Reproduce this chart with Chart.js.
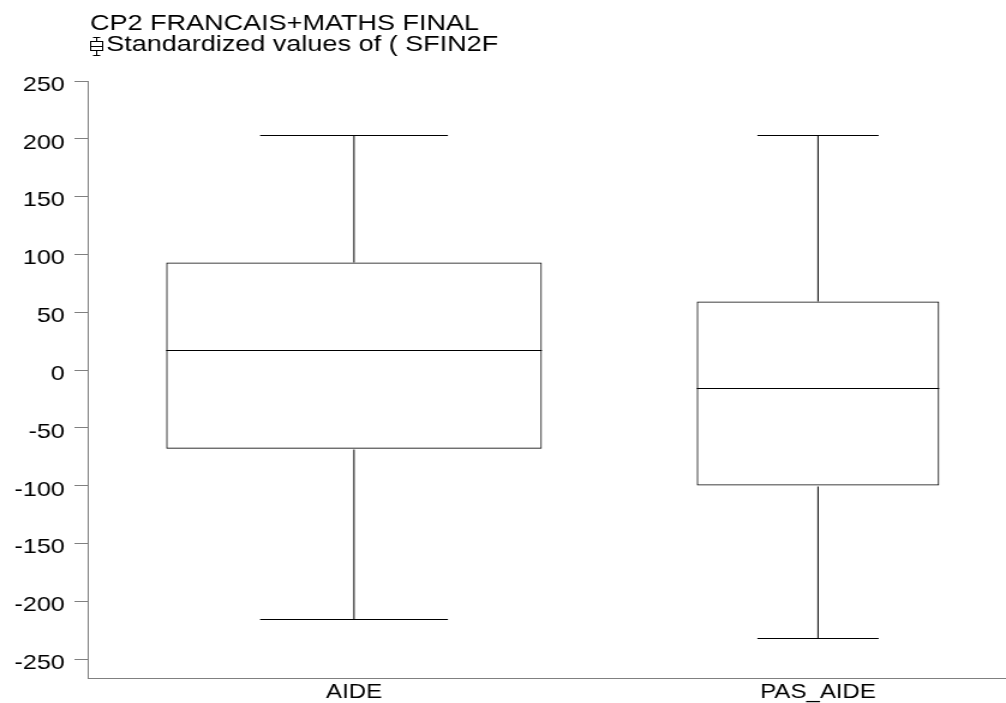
<!DOCTYPE html>
<html>
<head>
<meta charset="utf-8">
<script src="https://cdn.jsdelivr.net/npm/chart.js@4"></script>
<style>
body { margin: 0; background: #fff; }
</style>
</head>
<body>
<!-- drawn 838px wide and stretched to 1006px, like the original output -->
<canvas id="myChart" width="838" height="703" style="width:1006px;height:703px"></canvas>
<script>
const categories = ['AIDE', 'PAS_AIDE']
const whiskerHigh = [203.0, 203.0]
const upperQuartile = [93.1, 59.4]
const medians = [17.0, -15.8]
const lowerQuartile = [-68.0, -99.9]
const whiskerLow = [-215.0, -232.0]
const yTicks = [250, 200, 150, 100, 50, 0, -50, -100, -150, -200, -250]

const titleText = 'CP2 FRANCAIS+MATHS FINAL'
const legendText = 'Standardized values of ( SFIN2F'

// box widths in (unstretched) pixels
const boxThickness = [313, 202]

Chart.defaults.font.family = '"Liberation Sans", Arial, sans-serif'
Chart.defaults.color = '#000'

// whiskers, caps and median lines, placed from the bars and the y scale
const boxPlotLines = {
    id: 'boxPlotLines',
    afterDatasetsDraw(chart) {
        const ctx = chart.ctx
        const yScale = chart.scales.y
        const py = v => Math.round(yScale.getPixelForValue(v)) + 0.5
        const line = (x1, y1, x2, y2) => {
            ctx.beginPath()
            ctx.moveTo(x1, y1)
            ctx.lineTo(x2, y2)
            ctx.stroke()
        }
        ctx.save()
        ctx.strokeStyle = '#000'
        ctx.lineWidth = 1
        chart.data.datasets.forEach((ds, i) => {
            const bar = chart.getDatasetMeta(i).data[0]
            const cx = bar.x
            const half = bar.width / 2
            const cap = bar.width / 4
            line(cx - half, py(medians[i]), cx + half, py(medians[i]))
            line(cx, py(whiskerHigh[i]), cx, py(upperQuartile[i]))
            line(cx - cap, py(whiskerHigh[i]), cx + cap, py(whiskerHigh[i]))
            line(cx, py(lowerQuartile[i]), cx, py(whiskerLow[i]))
            line(cx - cap, py(whiskerLow[i]), cx + cap, py(whiskerLow[i]))
        })
        ctx.restore()
    }
}

// two title lines with the small box plot symbol
const titleLines = {
    id: 'titleLines',
    afterDraw(chart) {
        const ctx = chart.ctx
        ctx.save()
        ctx.fillStyle = '#000'
        ctx.font = '22.5px "Liberation Sans", Arial, sans-serif'
        ctx.textBaseline = 'alphabetic'
        ctx.fillText(titleText, 75, 30)
        ctx.fillText(legendText, 88.5, 51)
        ctx.strokeStyle = '#000'
        ctx.lineWidth = 1
        const cx = 80.5
        ctx.beginPath()
        ctx.moveTo(cx - 3, 37.5); ctx.lineTo(cx + 3, 37.5)
        ctx.moveTo(cx, 37.5); ctx.lineTo(cx, 41.5)
        ctx.moveTo(cx, 50.5); ctx.lineTo(cx, 55.5)
        ctx.moveTo(cx - 3, 55.5); ctx.lineTo(cx + 3, 55.5)
        ctx.moveTo(cx - 5, 46.5); ctx.lineTo(cx + 5, 46.5)
        ctx.stroke()
        ctx.strokeRect(cx - 5, 41.5, 10, 9)
        ctx.restore()
    }
}

const ctx = document.getElementById('myChart').getContext('2d')
const myChart = new Chart(ctx, {
    type: 'bar',
    data: {
        datasets: categories.map((c, i) => ({
            label: c,
            data: [{ x: i + 1, y: [lowerQuartile[i], upperQuartile[i]] }],
            barThickness: boxThickness[i],
            grouped: false,
            backgroundColor: 'rgba(0,0,0,0)',
            borderColor: '#000',
            borderWidth: 1,
            borderSkipped: false,
            inflateAmount: 0
        }))
    },
    options: {
        responsive: false,
        devicePixelRatio: 1,
        animation: false,
        layout: { padding: { top: 81, left: 0, right: 0, bottom: 0 } },
        plugins: {
            legend: { display: false },
            tooltip: { enabled: false }
        },
        scales: {
            x: {
                type: 'linear',
                min: 0.4259,
                max: 2.4052,
                offset: false,
                afterBuildTicks: s => { s.ticks = categories.map((c, i) => ({ value: i + 1 })) },
                afterFit: s => { s.height = 25 },
                grid: { drawOnChartArea: false, drawTicks: false },
                border: { color: '#808080' },
                ticks: {
                    font: { size: 20 },
                    padding: 2,
                    maxRotation: 0,
                    autoSkip: false,
                    callback: v => categories[v - 1]
                }
            },
            y: {
                min: -266.3,
                max: 250,
                afterBuildTicks: s => { s.ticks = yTicks.map(v => ({ value: v })) },
                afterFit: s => { s.width = 73 },
                grid: { drawOnChartArea: false, color: '#808080', tickLength: 11 },
                border: { color: '#808080' },
                ticks: { font: { size: 21 }, padding: 8, labelOffset: 4 }
            }
        }
    },
    plugins: [boxPlotLines, titleLines]
})
</script>
</body>
</html>
